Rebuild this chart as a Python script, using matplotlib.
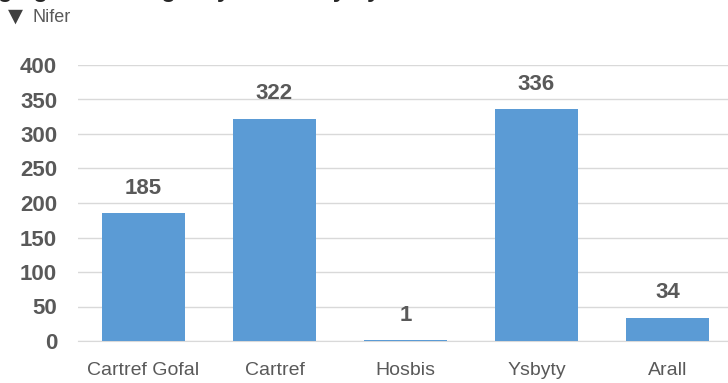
import matplotlib.pyplot as plt

categories = ["Cartref Gofal", "Cartref", "Hosbis", "Ysbyty", "Arall"]
values = [185, 322, 1, 336, 34]
yticks = [0, 50, 100, 150, 200, 250, 300, 350, 400]

bar_color = "#5B9BD5"
text_color = "#595959"
grid_color = "#D9D9D9"

fig = plt.figure(figsize=(7.28, 3.83), dpi=100)
# axes runs past the right edge like the original screenshot
ax = fig.add_axes([78 / 728, 1 - 341 / 383, 655 / 728, 276 / 383])

x = list(range(len(categories)))
ax.bar(x, values, width=0.626, color=bar_color, zorder=3)
ax.set_xlim(-0.5, 4.5)
ax.set_ylim(0, 400)
ax.set_yticks(yticks)
ax.set_yticklabels([str(t) for t in yticks], fontsize=16, fontweight="bold",
                   color=text_color, family="Liberation Sans")
ax.set_xticks(x)
ax.set_xticklabels(categories, fontsize=14, color=text_color, family="Liberation Sans")
ax.tick_params(axis="y", length=0, pad=15)
ax.tick_params(axis="x", length=0, pad=15)
ax.grid(axis="y", color=grid_color, linewidth=1, zorder=0)
for s in ["top", "right", "left"]:
    ax.spines[s].set_visible(False)
ax.spines["bottom"].set_color(grid_color)

for xi, v in zip(x, values):
    ax.annotate(str(v), (xi, v), xytext=(0, 18), textcoords="offset points",
                ha="center", va="center", fontsize=16, fontweight="bold",
                color=text_color, family="Liberation Sans")

# title cut off by the top of the image, only descenders show
fig.text(-2 / 728, 1 + 3.5 / 383, "golg ar ofal ar gan  y tîm hwn yn y fan", fontsize=17,
         fontweight="bold", color="#262626", va="baseline", ha="left",
         family="Liberation Sans")
fig.text(8 / 728, 1 - 16 / 383, "\u25BC", fontsize=14, color="#404040",
         va="center", ha="left", family="DejaVu Sans")
fig.text(33 / 728, 1 - 17 / 383, "Nifer", fontsize=13, color=text_color,
         va="center", ha="left", family="Liberation Sans")

fig.savefig("out.png", dpi=100)
